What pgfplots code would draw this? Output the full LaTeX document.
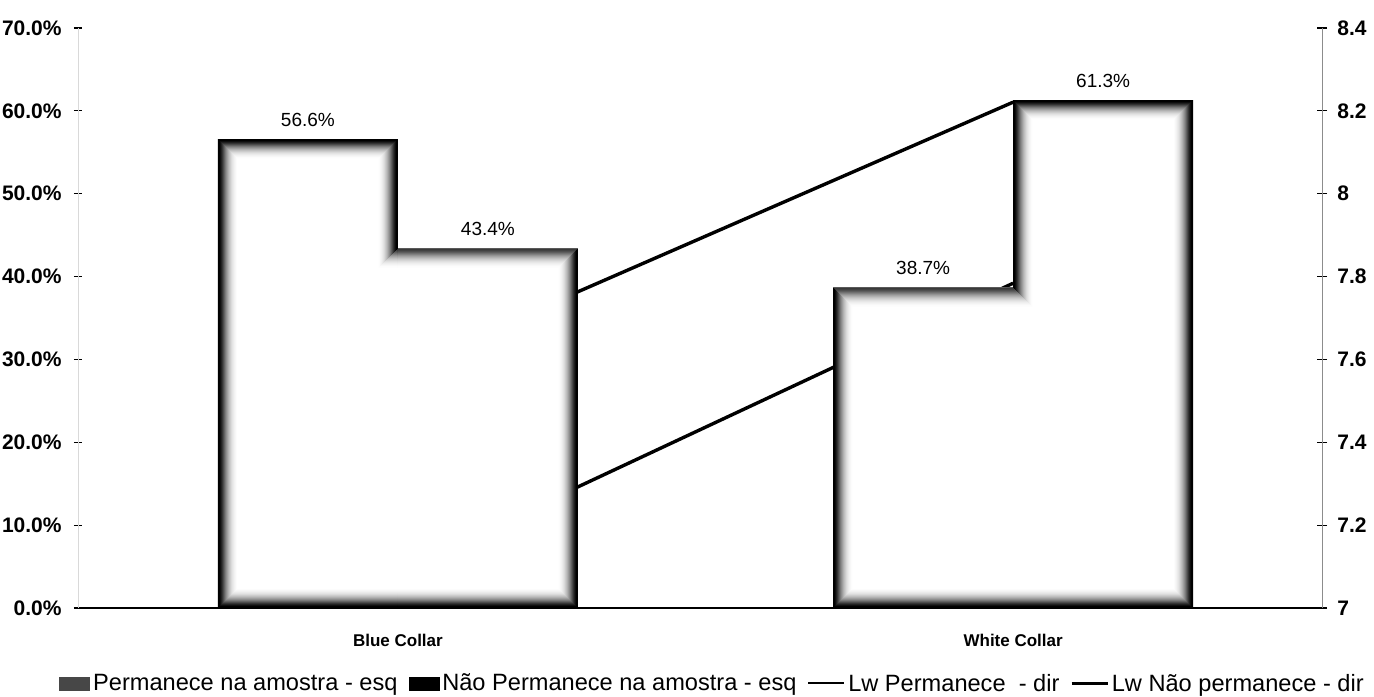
\documentclass[border=0pt]{standalone}
\usepackage{fontspec}
\setmainfont{Liberation Sans}
\usepackage{pgfplots}
\pgfplotsset{compat=1.18}

% inner shading of the bar outlines: inset / darkness / next inset (steps of 0.5pt)
\def\glowsteps{0/100/1,1/100/2,2/95/3,3/88/4,4/80/5,5/71/6,6/62/7,7/53/8,8/45/9,9/38/10,10/31/11,11/25/12,12/20/13,13/15/14,14/11/15,15/8/16,16/5/17,17/3/18,18/1/19}

% outline of a bar (with its lower part shared with the neighbouring bar)
% moved inwards by #1 pt; unshaded sides are pushed outwards, past the clip
\newcommand\glowpoly[1]{%
  \pgfmathsetmacro\pxa{\gx+\gL*#1-(1-\gL)*3}%
  \pgfmathsetmacro\pxb{\hx-\gR*#1+(1-\gR)*3}%
  \pgfmathsetmacro\pxc{\gx+\gLb*#1-(1-\gLb)*3}%
  \pgfmathsetmacro\pxd{\hx-\gRb*#1+(1-\gRb)*3}%
  \pgfmathsetmacro\pya{\gy+#1}%
  \pgfmathsetmacro\pyb{\hy-#1}%
  \pgfmathsetmacro\pyc{\gy+\gf*(\hy-\gy)-#1}%
  \pgfpathmoveto{\pgfqpoint{\pxc pt}{\pya pt}}%
  \pgfpathlineto{\pgfqpoint{\pxd pt}{\pya pt}}%
  \pgfpathlineto{\pgfqpoint{\pxd pt}{\pyc pt}}%
  \pgfpathlineto{\pgfqpoint{\pxb pt}{\pyc pt}}%
  \pgfpathlineto{\pgfqpoint{\pxb pt}{\pyb pt}}%
  \pgfpathlineto{\pgfqpoint{\pxa pt}{\pyb pt}}%
  \pgfpathlineto{\pgfqpoint{\pxa pt}{\pyc pt}}%
  \pgfpathlineto{\pgfqpoint{\pxc pt}{\pyc pt}}%
  \pgfpathclose
}

% #1,#2: shade the left/right side of the bar (1/0)
% #3,#4: shade the left/right side of its lower part (1/0)
% #5: height of the lower part as a fraction of the bar
\tikzset{
  glow/.style n args={5}{fill=white, draw=none, path picture={
    \def\gL{#1}\def\gR{#2}\def\gLb{#3}\def\gRb{#4}\def\gf{#5}%
    \pgfpointanchor{path picture bounding box}{south west}\pgfgetlastxy{\gx}{\gy}
    \pgfpointanchor{path picture bounding box}{north east}\pgfgetlastxy{\hx}{\hy}
    \pgfseteorule
    \foreach \gd/\gc/\gn in \glowsteps {
      \pgfsetfillcolor{black!\gc}
      \glowpoly{\gd*0.5}
      \glowpoly{\gn*0.5}
      \pgfusepath{fill}
    }
  }}
}

\pgfplotsset{
  common/.style={
    scale only axis, width=622pt, height=290pt,
    at={(0,0)}, anchor=south west,
    xmin=-0.52, xmax=1.502,
    /pgf/number format/assume math mode=true,
    tick style={black, line width=0.6pt},
  },
  barval/.style={
    forget plot, ybar, bar width=0.2927, draw=none, fill=none,
    nodes near coords={\pgfmathprintnumber[fixed,fixed zerofill,precision=1]{\pgfplotspointmeta}\%},
    nodes near coords style={font=\fontsize{9.5}{11}\selectfont, anchor=south, inner sep=0pt, yshift=6pt, text=black},
  },
  glowbar/.style={forget plot, ybar, bar width=0.2927},
}

\begin{document}
\begin{tikzpicture}
\useasboundingbox (-39pt,-44pt) rectangle (648pt,304pt);

% right axis: Lw lines (drawn first, so the bars cover them)
\begin{axis}[common,
  ymin=7, ymax=8.4,
  axis x line=none, axis y line*=right,
  axis line style={black!45, line width=0.5pt},
  ytick={7,7.2,...,8.41},
  tick align=center, major tick length=5pt,
  yticklabel style={font=\bfseries\fontsize{10.5}{12}\selectfont, anchor=west, inner sep=0pt, xshift=5pt},
]
\addplot[black, line width=1.7pt] coordinates {(0,7.574) (1,8.221)};
\addplot[black, line width=1.7pt] coordinates {(0,7.089) (1,7.784)};
\end{axis}

% left axis: shares of the sample
\begin{axis}[common,
  ymin=0, ymax=70,
  axis y line*=left, axis x line*=bottom,
  y axis line style={black!15, line width=0.4pt},
  x axis line style={black, line width=1pt},
  ytick={0,10,...,70},
  yticklabel={\pgfmathprintnumber[fixed,fixed zerofill,precision=1]{\tick}\%},
  yticklabel style={font=\bfseries\fontsize{10.5}{12}\selectfont, anchor=east, inner sep=0pt, xshift=-6pt},
  ytick style={black, line width=0.6pt},
  tick align=center, major tick length=4pt,
  xtick={0,1}, xticklabels={Blue Collar, White Collar},
  xtick style={draw=none},
  xticklabel style={font=\bfseries\fontsize{8.5}{10}\selectfont, anchor=center, inner sep=0pt, yshift=-14pt},
  legend columns=4,
  legend style={draw=none, fill=none, at={(0.5105,-0.131)}, anchor=center,
    font=\fontsize{11.8}{14}\selectfont, inner sep=0pt,
    /tikz/every even column/.append style={column sep=4pt},
    nodes={inner sep=1.5pt}},
]
\addplot[glowbar, bar shift=-0.1463, glow={1}{1}{1}{0}{0.7668}] coordinates {(0,56.6)};
\addplot[glowbar, bar shift=0.1463,  glow={0}{1}{0}{1}{1}] coordinates {(0,43.4)};
\addplot[glowbar, bar shift=-0.1463, glow={1}{0}{1}{0}{1}] coordinates {(1,38.7)};
\addplot[glowbar, bar shift=0.1463,  glow={1}{1}{0}{1}{0.6313}] coordinates {(1,61.3)};

% value labels above the bars
\addplot[barval, bar shift=-0.1463, nodes near coords style={xshift=-45pt}] coordinates {(0,56.6) (1,38.7)};
\addplot[barval, bar shift=0.1463, nodes near coords style={xshift=45pt}] coordinates {(0,43.4) (1,61.3)};

\addlegendimage{legend image code/.code={\fill[black!72] (0pt,-3pt) rectangle (15pt,3.5pt);}}
\addlegendentry{Permanece na amostra - esq}
\addlegendimage{legend image code/.code={\fill[black] (0pt,-3pt) rectangle (15pt,3.5pt);}}
\addlegendentry{Não Permanece na amostra - esq}
\addlegendimage{legend image code/.code={\draw[black, line width=0.9pt] (0pt,0.3pt) -- (18pt,0.3pt);}}
\addlegendentry{Lw Permanece\ \ - dir}
\addlegendimage{legend image code/.code={\draw[black, line width=1.2pt] (0pt,0.3pt) -- (18pt,0.3pt);}}
\addlegendentry{Lw Não permanece - dir}
\end{axis}
\end{tikzpicture}
\end{document}
